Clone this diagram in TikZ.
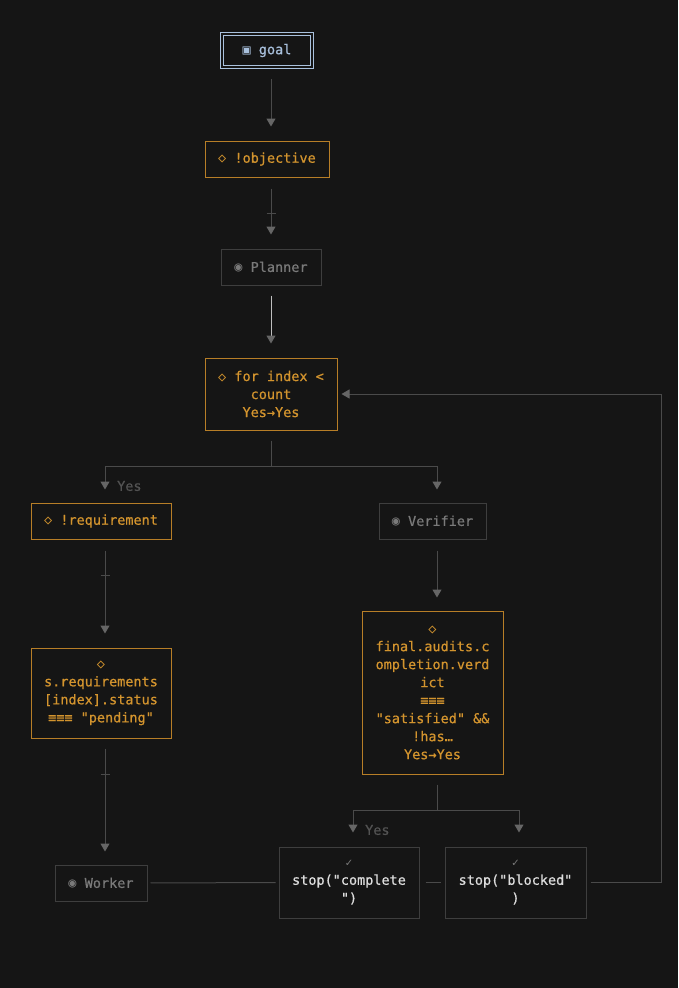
\documentclass[tikz,border=0pt]{standalone}
\usepackage{fontspec}
\newfontfamily\mono{DejaVu Sans Mono}[FakeBold=0.6]
\newfontfamily\monosym{DejaVu Sans Mono}
\newfontfamily\symf{DejaVu Sans}
\newcommand{\sy}[1]{{\monosym #1}}
\usetikzlibrary{arrows.meta}
\definecolor{bg}{HTML}{151515}
\definecolor{orng}{HTML}{D3942E}
\definecolor{orngb}{HTML}{B77E27}
\definecolor{gbord}{HTML}{3E3E3E}
\definecolor{gtext}{HTML}{7A7A7A}
\definecolor{linec}{HTML}{4A4A4A}
\definecolor{tipc}{HTML}{666666}
\definecolor{lblc}{HTML}{525252}
\definecolor{goalc}{HTML}{A9C1DD}
\definecolor{stopt}{HTML}{DDDDDD}
\tikzset{
  base/.style={inner sep=0pt, align=center, fill=bg, line width=1pt,
    font=\mono\fontsize{13.5}{18}\selectfont},
  condbox/.style={base, draw=orngb, text=orng},
  agentbox/.style={base, draw=gbord, text=gtext},
  stopbox/.style={base, draw=gbord, text=stopt},
  goalbox/.style={base, draw=goalc, text=goalc, double=bg, double distance=2pt, line width=0.9pt},
  conn/.style={draw=linec, line width=1pt},
  arr/.style={conn, -{Triangle[width=9pt,length=8pt,color=tipc]}},
  lbl/.style={text=lblc, font=\mono\fontsize{13.5}{18}\selectfont, inner sep=0pt},
  tick/.style={draw=linec, line width=1pt}
}
\begin{document}
\begin{tikzpicture}[x=1pt,y=-1pt]
\fill[bg] (0,0) rectangle (678,988);
\useasboundingbox (0,0) rectangle (678,988);

% nodes
\node[goalbox, minimum width=90pt, minimum height=33pt] (goal) at (267,50.5) {\sy{▣} goal};
\node[condbox, minimum width=124pt, minimum height=36pt] (objective) at (267,159) {\sy{◇} !objective};
\node[agentbox, minimum width=100pt, minimum height=36pt] (planner) at (271,267) {\sy{◉} Planner};
\node[condbox, minimum width=132pt, minimum height=72pt] (forn) at (271,394) {\sy{◇} for index <\\count\\Yes→Yes};
\node[condbox, minimum width=140pt, minimum height=36pt] (req) at (101,521) {\sy{◇} !requirement};
\node[agentbox, minimum width=107pt, minimum height=36pt] (verifier) at (432.5,521) {\sy{◉} Verifier};
\node[condbox, minimum width=140pt, minimum height=90pt] (status) at (101,693) {\sy{◇}\\s.requirements\\{[index].status}\\≡≡≡ "pending"};
\node[agentbox, minimum width=92pt, minimum height=36pt] (worker) at (101,883) {\sy{◉} Worker};
\node[condbox, minimum width=141pt, minimum height=163pt] (final) at (432.5,692.5) {\sy{◇}\\final.audits.c\\ompletion.verd\\ict\\≡≡≡\\"satisfied" \&\&\\!has…\\Yes→Yes};
\node[stopbox, minimum width=140pt, minimum height=71pt] (stopc) at (349,882.5) {{\symf\fontsize{10}{18}\selectfont\color{gtext}✓}\\stop("complete\\")};
\node[stopbox, minimum width=141pt, minimum height=71pt] (stopb) at (515.5,882.5) {{\symf\fontsize{10}{18}\selectfont\color{gtext}✓}\\stop("blocked"\\)};

% labels
\node[lbl, anchor=west] (yes1) at (117,486) {Yes};
\node[lbl, anchor=west] (yes2) at (365,830) {Yes};

% coordinates
\coordinate (j1) at (271,466);
\coordinate (j2) at (437,810);
\coordinate (rc) at (661,882.5);

% connectors
\draw[arr, shorten <=12pt, shorten >=14pt] ([xshift=4pt]goal.south) -- ([xshift=4pt]objective.north);
\draw[arr, shorten <=11pt, shorten >=14pt] ([xshift=4pt]objective.south) -- (planner.north);
\draw[tick] (266.5,213) -- (275.5,213);
\draw[arr, draw=white!75!black, shorten <=10pt, shorten >=14pt] (planner.south) -- (forn.north);

\draw[conn] ([yshift=-10pt]forn.south) -- (j1);
\draw[arr, shorten >=13pt] (j1) -| ([xshift=4pt]req.north);
\draw[arr, shorten >=13pt] (j1) -| ([xshift=4.5pt]verifier.north);

\draw[arr, shorten <=11pt, shorten >=14pt] ([xshift=4pt]req.south) -- ([xshift=4pt]status.north);
\draw[tick] (100.5,575) -- (109.5,575);
\draw[arr, shorten <=10pt, shorten >=13pt] ([xshift=4pt]status.south) -- ([xshift=4pt]worker.north);
\draw[tick] (100.5,774) -- (109.5,774);

\draw[arr, shorten <=11pt, shorten >=13pt] ([xshift=4.5pt]verifier.south) -- ([xshift=4.5pt]final.north);
\draw[conn] ([xshift=4.5pt,yshift=-10pt]final.south) -- (j2);
\draw[arr, shorten >=14pt] (j2) -| ([xshift=4pt]stopc.north);
\draw[arr, shorten >=14pt] (j2) -| ([xshift=3.5pt]stopb.north);

\draw[conn, shorten <=3pt, shorten >=3pt] (worker.east) -- (stopc.west);
\draw[conn, shorten <=6pt, shorten >=4pt] (stopc.east) -- (stopb.west);
\draw[conn, shorten <=4pt] (stopb.east) -- (rc);
\draw[arr, shorten >=4pt] (rc) |- (forn.east);
\end{tikzpicture}
\end{document}
